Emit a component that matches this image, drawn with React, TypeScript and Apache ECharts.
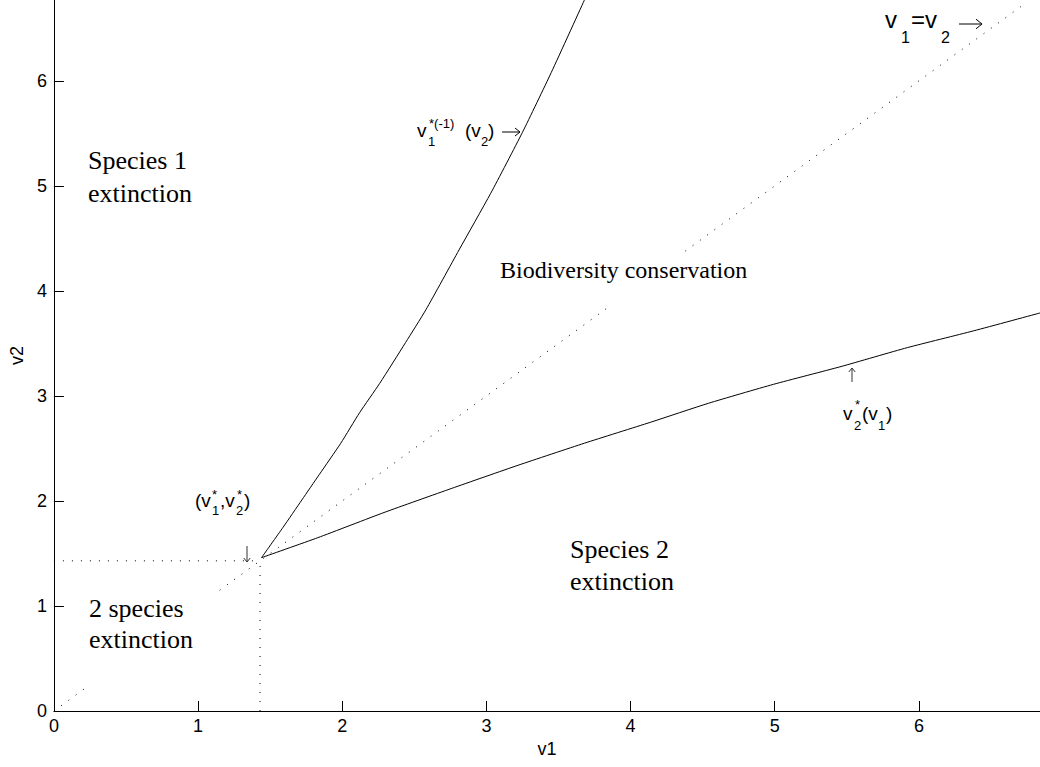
import React, { useEffect, useRef } from "react";
import * as echarts from "echarts";

// Axis extents and ticks
const X_MAX = 6.84;
const Y_MAX = 6.77;
const TICK_INTERVAL = 1;

// Equilibrium point (v1*, v2*)
const EQ_V1 = 1.43;
const EQ_V2 = 1.43;

// Upper boundary v1*^(-1)(v2)
const upperV1 = [1.44, 1.59, 1.72, 1.84, 1.99, 2.12, 2.26, 2.44, 2.58, 2.81, 3.03, 3.25, 3.45, 3.68];
const upperV2 = [1.46, 1.75, 2.01, 2.25, 2.55, 2.84, 3.12, 3.51, 3.82, 4.39, 4.93, 5.51, 6.08, 6.77];

// Lower boundary v2*(v1)
const lowerV1 = [1.44, 1.83, 2.29, 2.76, 3.22, 3.68, 4.14, 4.54, 4.99, 5.46, 5.92, 6.38, 6.84];
const lowerV2 = [1.46, 1.65, 1.89, 2.12, 2.34, 2.55, 2.75, 2.93, 3.11, 3.28, 3.46, 3.62, 3.79];

// Visible pieces of the dotted diagonal v1 = v2 (start, end)
const diagonalStart = [0.05, 1.15, 4.38];
const diagonalEnd = [0.23, 3.83, 6.72];

const SANS = "'Liberation Sans', Arial, Helvetica, sans-serif";
const SERIF = "'Liberation Serif', 'Times New Roman', serif";

function txt(text: string, x: number, baseline: number, size: number, family = SANS, align = "left") {
  return {
    type: "text",
    x,
    y: baseline - 0.35 * size,
    z: 100,
    silent: true,
    style: {
      text,
      fontSize: size,
      fontFamily: family,
      fill: "#000",
      align,
      verticalAlign: "middle",
    },
  };
}

// thin annotation arrow drawn as shaft + open head
function arrowH(x1: number, x2: number, y: number, head = 5) {
  return [
    { type: "line", z: 100, silent: true, shape: { x1, y1: y, x2, y2: y }, style: { stroke: "#000", lineWidth: 1 } },
    {
      type: "polyline",
      z: 100,
      silent: true,
      shape: { points: [[x2 - head, y - head * 0.8], [x2, y], [x2 - head, y + head * 0.8]] },
      style: { stroke: "#000", lineWidth: 1, fill: null },
    },
  ];
}
function arrowV(x: number, y1: number, y2: number, head = 4) {
  const dir = y2 > y1 ? 1 : -1;
  return [
    { type: "line", z: 100, silent: true, shape: { x1: x, y1, x2: x, y2 }, style: { stroke: "#333", lineWidth: 1 } },
    {
      type: "polyline",
      z: 100,
      silent: true,
      shape: { points: [[x - head * 0.8, y2 - dir * head], [x, y2], [x + head * 0.8, y2 - dir * head]] },
      style: { stroke: "#333", lineWidth: 1, fill: null },
    },
  ];
}

const dotted = {
  color: "#000",
  width: 1,
  type: [1, 8] as any,
};

export default function App() {
  const ref = useRef<HTMLDivElement>(null);

  useEffect(() => {
    if (!ref.current) return;
    const chart = echarts.init(ref.current, undefined, { renderer: "svg" });

    const upper = upperV1.map((v, i) => [v, upperV2[i]]);
    const lower = lowerV1.map((v, i) => [v, lowerV2[i]]);

    const series: any[] = [
      {
        type: "line",
        data: upper,
        showSymbol: false,
        smooth: 0.2,
        lineStyle: { color: "#000", width: 1 },
        silent: true,
      },
      {
        type: "line",
        data: lower,
        showSymbol: false,
        smooth: 0.2,
        lineStyle: { color: "#000", width: 1 },
        silent: true,
      },
      {
        type: "line",
        data: [
          [0, EQ_V2],
          [EQ_V1, EQ_V2],
        ],
        showSymbol: false,
        lineStyle: dotted,
        silent: true,
      },
      {
        type: "line",
        data: [
          [EQ_V1, 0],
          [EQ_V1, EQ_V2],
        ],
        showSymbol: false,
        lineStyle: dotted,
        silent: true,
      },
      ...diagonalStart.map((s, i) => ({
        type: "line",
        data: [
          [s, s],
          [diagonalEnd[i], diagonalEnd[i]],
        ],
        showSymbol: false,
        lineStyle: dotted,
        silent: true,
      })),
    ];

    const labelFmt = (v: number) => (Math.abs(v - Math.round(v)) < 1e-9 ? String(Math.round(v)) : "");

    const axisCommon = {
      type: "value",
      min: 0,
      interval: TICK_INTERVAL,
      splitLine: { show: false },
      axisLine: { show: true, onZero: false, lineStyle: { color: "#000", width: 1 } },
      axisTick: { show: true, inside: true, length: 10, lineStyle: { color: "#000", width: 1 } },
      nameLocation: "middle",
      nameTextStyle: { color: "#000", fontSize: 18, fontFamily: SANS },
    };

    const graphic: any[] = [
      // region labels
      txt("Species 1", 88, 170, 26, SERIF),
      txt("extinction", 88, 203, 26, SERIF),
      txt("Biodiversity conservation", 500, 278, 24, SERIF),
      txt("Species 2", 570, 559, 26, SERIF),
      txt("extinction", 570, 591, 26, SERIF),
      txt("2 species", 89, 618, 26, SERIF),
      txt("extinction", 89, 649, 26, SERIF),
      // (v1*, v2*)
      txt("(v", 195, 507, 19),
      txt("1", 212, 515, 13),
      txt("*", 212, 499, 13),
      txt(",v", 220, 507, 19),
      txt("2", 236, 515, 13),
      txt("*", 237, 499, 13),
      txt(")", 244, 507, 19),
      ...arrowV(247, 546, 562),
      // v1*(-1)(v2) ->
      txt("v", 417, 137, 19),
      txt("1", 428, 146, 13),
      txt("*(-1)", 429, 128, 13),
      txt("(v", 465, 137, 19),
      txt("2", 481, 146, 13),
      txt(")", 488, 137, 19),
      ...arrowH(502, 520, 132, 5),
      // v1 = v2 ->
      txt("v", 885, 28, 24),
      txt("1", 901, 43, 16),
      txt("=v", 911, 28, 24),
      txt("2", 941, 43, 16),
      ...arrowH(959, 982, 24, 6),
      // v2*(v1)
      ...arrowV(852, 382, 368),
      txt("v", 843, 420, 19),
      txt("2", 854, 430, 13),
      txt("*", 855, 409, 13),
      txt("(v", 862, 420, 19),
      txt("1", 878, 430, 13),
      txt(")", 886, 420, 19),
    ];

    chart.setOption({
      animation: false,
      backgroundColor: "#fff",
      grid: { left: 52, right: 0, top: 0, bottom: 56, containLabel: false },
      xAxis: {
        ...axisCommon,
        max: X_MAX,
        name: "v1",
        nameGap: 23,
        axisLabel: { color: "#000", fontSize: 18, fontFamily: SANS, margin: 6, formatter: labelFmt, showMaxLabel: false },
      },
      yAxis: {
        ...axisCommon,
        max: Y_MAX,
        name: "v2",
        nameGap: 26,
        axisLabel: { color: "#000", fontSize: 18, fontFamily: SANS, margin: 7, formatter: labelFmt, showMaxLabel: false },
      },
      series,
      graphic,
    });

    return () => chart.dispose();
  }, []);

  return (
    <div
      ref={ref}
      style={{ position: "absolute", left: 0, top: 0, width: 1040, height: 767, background: "#fff" }}
    />
  );
}
